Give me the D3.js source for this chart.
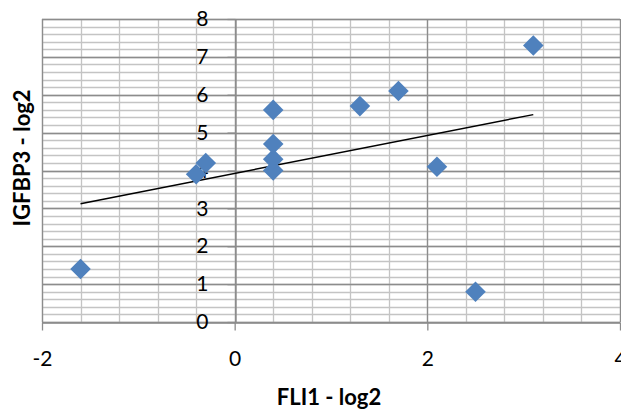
<!DOCTYPE html>
<html><head><meta charset="utf-8">
<script src="https://cdn.jsdelivr.net/npm/d3@7"></script>
<style>body{margin:0;background:#fff}svg{display:block}</style>
</head><body>
<svg id="c" width="621" height="411"></svg>
<script>
const xValues = [-1.6, -0.4, -0.3, 0.4, 0.4, 0.4, 0.4, 1.3, 1.7, 2.1, 2.5, 3.1];
const yValues = [1.4, 3.9, 4.2, 4.0, 4.3, 4.7, 5.6, 5.7, 6.1, 4.1, 0.8, 7.3];
const xTicks = [-2, 0, 2, 4];
const yTicks = [0, 1, 2, 3, 4, 5, 6, 7, 8];
const xTitle = "FLI1 - log2";
const yTitle = "IGFBP3 - log2";

const svg = d3.select("#c");
const x = d3.scaleLinear().domain([-2, 4]).range([42, 620]);
const y = d3.scaleLinear().domain([0, 8]).range([322, 19]);
const font = "Lato, 'Open Sans', sans-serif";

// minor gridlines
const g = svg.append("g");
const xMinor = d3.range(-2, 4.0001, 0.4).map(v => +v.toFixed(2));
const yMinor = d3.range(0, 8.0001, 0.2).map(v => +v.toFixed(2));
g.selectAll(".hm").data(yMinor).join("line")
  .attr("x1", x(-2)).attr("x2", x(4))
  .attr("y1", d => Math.round(y(d)) + 0.5).attr("y2", d => Math.round(y(d)) + 0.5)
  .attr("stroke", "#c4c4c4").attr("stroke-width", 1.3);
g.selectAll(".vm").data(xMinor).join("line")
  .attr("y1", y(0)).attr("y2", y(8))
  .attr("x1", d => Math.round(x(d)) + 0.5).attr("x2", d => Math.round(x(d)) + 0.5)
  .attr("stroke", "#c4c4c4").attr("stroke-width", 1.3);
// major gridlines
g.selectAll(".hM").data(yTicks).join("line")
  .attr("x1", x(-2)).attr("x2", x(4))
  .attr("y1", d => Math.round(y(d)) + 0.5).attr("y2", d => Math.round(y(d)) + 0.5)
  .attr("stroke", "#8c8c8c").attr("stroke-width", 1.3);
g.selectAll(".vM").data(xTicks).join("line")
  .attr("y1", y(0)).attr("y2", y(8))
  .attr("x1", d => Math.round(x(d)) + 0.5).attr("x2", d => Math.round(x(d)) + 0.5)
  .attr("stroke", "#8c8c8c").attr("stroke-width", 1.3);

// x axis at y=0
const xAxis = svg.append("g").attr("transform", `translate(0,${Math.round(y(0)) + 0.5})`)
  .call(d3.axisBottom(x).tickValues(xTicks).tickSize(8).tickPadding(21).tickSizeOuter(0).tickFormat(d3.format("d")));
xAxis.select(".domain").attr("stroke", "#8c8c8c").attr("stroke-width", 1.3);
xAxis.selectAll(".tick line").attr("stroke", "#8c8c8c").attr("stroke-width", 1.3);
xAxis.selectAll("text").attr("font-family", font).attr("font-size", 21).attr("fill", "#000")
  .text(d => d < 0 ? "-" + Math.abs(d) : d);

// y axis at x=0
const yAxis = svg.append("g").attr("transform", `translate(${Math.round(x(0)) + 0.5},0)`)
  .call(d3.axisLeft(y).tickValues(yTicks).tickSize(8).tickPadding(19).tickSizeOuter(0).tickFormat(d3.format("d")));
yAxis.select(".domain").attr("stroke", "#8c8c8c").attr("stroke-width", 1.3);
yAxis.selectAll(".tick line").attr("stroke", "#8c8c8c").attr("stroke-width", 1.3);
yAxis.selectAll("text").attr("font-family", font).attr("font-size", 21).attr("fill", "#000");

// trendline (least squares)
const n = xValues.length;
const mx = d3.mean(xValues), my = d3.mean(yValues);
let sxy = 0, sxx = 0;
for (let i = 0; i < n; i++) { sxy += (xValues[i]-mx)*(yValues[i]-my); sxx += (xValues[i]-mx)**2; }
const slope = sxy / sxx, icpt = my - slope * mx;
const x0 = d3.min(xValues), x1 = d3.max(xValues);
svg.append("line")
  .attr("x1", x(x0)).attr("y1", y(icpt + slope * x0))
  .attr("x2", x(x1)).attr("y2", y(icpt + slope * x1))
  .attr("stroke", "#000").attr("stroke-width", 1.5);

// points
const sym = d3.symbol().type(d3.symbolDiamond2).size(270);
svg.append("g").selectAll("path").data(xValues.map((v, i) => [v, yValues[i]])).join("path")
  .attr("transform", d => `translate(${x(d[0])},${y(d[1])})`)
  .attr("d", sym).attr("fill", "#4f81bd");

// titles
svg.append("text").attr("x", 329).attr("y", 405).attr("text-anchor", "middle")
  .attr("font-family", font).attr("font-weight", "bold").attr("font-size", 22).text(xTitle);
svg.append("text").attr("transform", "translate(30,158) rotate(-90)").attr("text-anchor", "middle")
  .attr("font-family", font).attr("font-weight", "bold").attr("font-size", 22).text(yTitle);
</script>
</body></html>
